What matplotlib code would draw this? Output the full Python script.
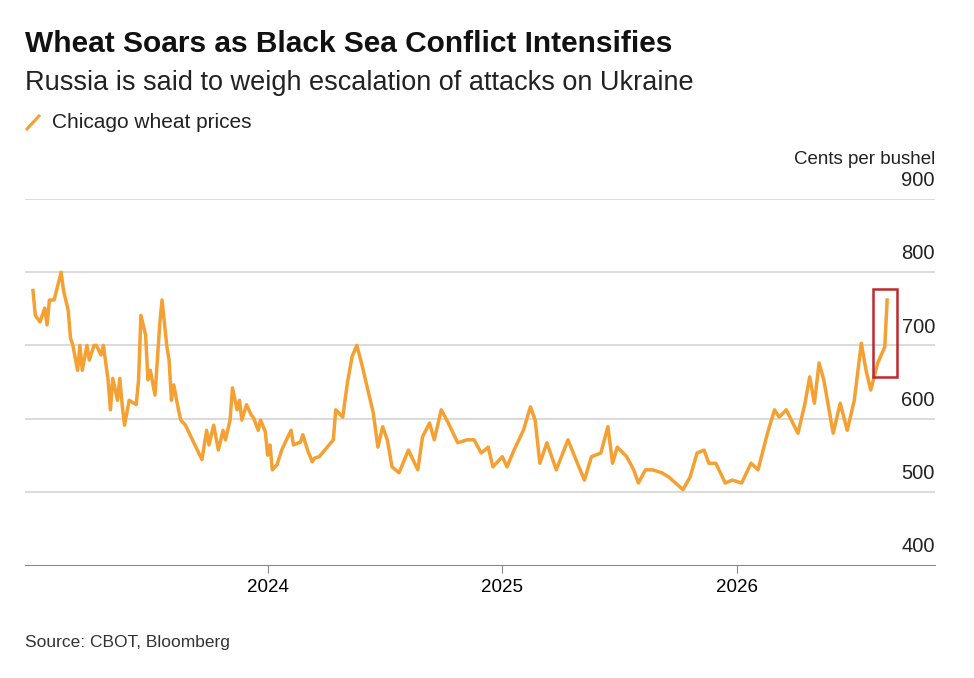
import matplotlib
matplotlib.use("Agg")
import matplotlib.pyplot as plt
from matplotlib.patches import Rectangle
from matplotlib.lines import Line2D

plt.rcParams['font.family'] = ['Liberation Sans', 'DejaVu Sans']

years = [2023.00,2023.01,2023.03,2023.05,2023.06,2023.07,2023.09,2023.11,2023.12,2023.13,2023.15,2023.16,2023.17,2023.19,2023.20,2023.21,2023.23,2023.24,2023.26,2023.27,2023.29,2023.30,2023.32,2023.33,2023.34,2023.36,2023.37,2023.38,2023.39,2023.41,2023.44,2023.45,2023.46,2023.48,2023.49,2023.50,2023.52,2023.53,2023.54,2023.55,2023.57,2023.58,2023.59,2023.60,2023.62,2023.63,2023.65,2023.66,2023.69,2023.72,2023.74,2023.75,2023.77,2023.79,2023.81,2023.82,2023.84,2023.85,2023.87,2023.88,2023.89,2023.91,2023.93,2023.94,2023.96,2023.97,2023.99,
         2024.00,2024.01,2024.02,2024.04,2024.06,2024.08,2024.10,2024.11,2024.14,2024.15,2024.17,2024.19,2024.20,2024.22,2024.28,2024.29,2024.32,2024.34,2024.36,2024.38,2024.40,2024.43,2024.45,2024.47,2024.49,2024.51,2024.53,2024.56,2024.60,2024.64,2024.66,2024.69,2024.71,2024.74,2024.77,2024.81,2024.85,2024.88,2024.91,2024.94,2024.96,
         2025.00,2025.02,2025.05,2025.09,2025.12,2025.14,2025.16,2025.19,2025.23,2025.28,2025.32,2025.35,2025.38,2025.42,2025.45,2025.47,2025.49,2025.53,2025.56,2025.58,2025.61,2025.64,2025.68,2025.71,2025.77,2025.80,2025.83,2025.86,2025.88,2025.91,2025.95,2025.98,
         2026.02,2026.06,2026.09,2026.13,2026.16,2026.18,2026.21,2026.26,2026.29,2026.31,2026.33,2026.35,2026.37,2026.41,2026.44,2026.47,2026.50,2026.53,2026.55,2026.57,2026.60,2026.63,2026.64]
prices = [775,741,732,751,728,762,762,787,800,775,748,710,700,666,700,666,700,680,700,700,687,700,653,612,655,625,655,619,591,625,619,653,741,714,653,666,632,680,728,762,700,680,625,646,612,598,591,584,564,544,584,564,591,557,584,571,598,642,612,625,598,619,605,601,584,598,582,
          550,564,530,537,557,571,584,564,568,578,557,541,546,548,571,612,602,649,685,700,676,635,608,561,589,571,534,526,557,530,575,594,571,612,594,567,571,571,553,561,534,
          548,534,557,584,616,598,539,567,530,571,539,516,548,553,589,539,561,548,530,512,530,530,526,520,503,520,553,557,539,539,512,516,
          512,539,530,580,612,602,612,580,621,657,621,676,653,580,621,584,625,703,666,639,676,698,762]

ytick_vals = [400, 500, 600, 700, 800, 900]
xtick_vals = [2024, 2025, 2026]
xtick_labels = ["2024", "2025", "2026"]

ORANGE = '#F5A033'
fig = plt.figure(figsize=(9.74, 6.78), dpi=100)
ax = fig.add_axes([25/974, 113/678, 910/974, 366/678])
ax.plot(years, prices, color=ORANGE, lw=2.5, solid_joinstyle='round')
ax.set_xlim(2022.966, 2026.844)
ax.set_ylim(400, 900)

for v in ytick_vals:
    if v > 400:
        ax.axhline(v, color='#d4d4d4', lw=1.2, zorder=0)
    ax.text(2026.844, v + 12, str(v), ha='right', va='bottom', fontsize=14.5, color='#222')
ax.set_yticks([])
for s in ['top', 'right', 'left']:
    ax.spines[s].set_visible(False)
ax.spines['bottom'].set_color('#888')
ax.set_xticks(xtick_vals, xtick_labels)
ax.tick_params(axis='x', length=6, color='#888', labelsize=13.5, pad=4)
ax.text(2026.844, 943, "Cents per bushel", ha='right', va='bottom', fontsize=13.5, color='#222')

ax.add_patch(Rectangle((2026.58, 657), 0.10, 120, fill=False, edgecolor='#C0282D', lw=1.8, zorder=5))

fig.text(25/974, 1-44/678, "Wheat Soars as Black Sea Conflict Intensifies", fontsize=21.5, fontweight='bold', va='center', color='#111')
fig.text(25/974, 1-83/678, "Russia is said to weigh escalation of attacks on Ukraine", fontsize=19.5, va='center', color='#222')
fig.add_artist(Line2D([27/974, 39/974], [1-129/678, 1-116/678], color=ORANGE, lw=2.2))
fig.text(52/974, 1-122/678, "Chicago wheat prices", fontsize=15, va='center', color='#222')
fig.text(25/974, 1-643/678, "Source: CBOT, Bloomberg", fontsize=12.5, va='center', color='#333')

fig.savefig("out.png", dpi=100, facecolor='white')
